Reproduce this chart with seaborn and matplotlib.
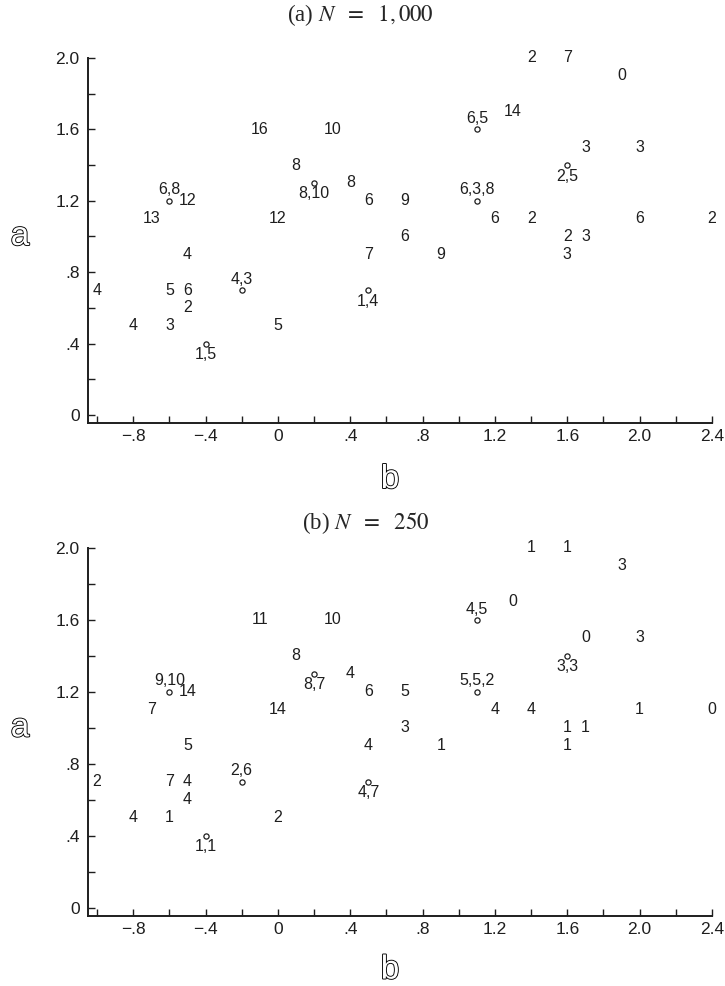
import numpy as np
import pandas as pd
import seaborn as sns
import matplotlib
matplotlib.use("Agg")
import matplotlib.pyplot as plt
from matplotlib.ticker import FixedLocator, FixedFormatter
import matplotlib.patheffects as pe

# grid points (b, a) - same for both panels
b_vals = [-1.0, -0.8, -0.6, -0.6, -0.5, -0.5, -0.5, -0.7, -0.6, -0.5,
          -0.2, -0.4, 0.0, -0.1, 0.0, 0.3, 0.1, 0.2, 0.4, 0.5,
          0.5, 0.5, 0.7, 0.7, 0.9, 1.1, 1.3, 1.1, 1.2, 1.4,
          1.4, 1.6, 1.9, 1.7, 2.0, 1.6, 1.6, 1.7, 1.6, 2.0, 2.4]
a_vals = [0.7, 0.5, 0.5, 0.7, 0.7, 0.6, 0.9, 1.1, 1.2, 1.2,
          0.7, 0.4, 0.5, 1.6, 1.1, 1.6, 1.4, 1.3, 1.3, 1.2,
          0.9, 0.7, 1.2, 1.0, 0.9, 1.6, 1.7, 1.2, 1.1, 1.1,
          2.0, 2.0, 1.9, 1.5, 1.5, 1.4, 1.0, 1.0, 0.9, 1.1, 1.1]

labels_1000 = ["4", "4", "3", "5", "6", "2", "4", "13", "6,8", "12",
               "4,3", "1,5", "5", "16", "12", "10", "8", "8,10", "8", "6",
               "7", "1,4", "9", "6", "9", "6,5", "14", "6,3,8", "6", "2",
               "2", "7", "0", "3", "3", "2,5", "2", "3", "3", "6", "2"]
labels_250 = ["2", "4", "1", "7", "4", "4", "5", "7", "9,10", "14",
              "2,6", "1,1", "2", "11", "14", "10", "8", "8,7", "4", "6",
              "4", "4,7", "5", "3", "1", "4,5", "0", "5,5,2", "4", "4",
              "1", "1", "3", "0", "3", "3,3", "1", "1", "1", "1", "0"]

# where the label goes for circled points: u = above, d = below
label_side = {8: "u", 10: "u", 11: "d", 17: "d", 21: "d", 25: "u", 27: "u", 35: "d"}

x_major = [-0.8, -0.4, 0.0, 0.4, 0.8, 1.2, 1.6, 2.0, 2.4]
x_major_lab = ["\u2212.8", "\u2212.4", "0", ".4", ".8", "1.2", "1.6", "2.0", "2.4"]
y_major = [0.0, 0.4, 0.8, 1.2, 1.6, 2.0]
y_major_lab = ["0", ".4", ".8", "1.2", "1.6", "2.0"]

sns.set_theme(style="ticks")
plt.rcParams['font.family'] = ['Liberation Sans', 'DejaVu Sans']
plt.rcParams['mathtext.fontset'] = 'stix'

fig = plt.figure(figsize=(7.25, 9.86), dpi=100)
ax1 = fig.add_axes([88/725, 1-423/986, 624/725, 365/986])
ax2 = fig.add_axes([88/725, 1-916/986, 624/725, 368/986])

ink = "#1e1e1e"


def draw_panel(ax, labels, blab_y):
    df = pd.DataFrame({"b": b_vals, "a": a_vals, "lab": labels})
    circ = df[df["lab"].str.contains(",")]
    sns.scatterplot(data=circ, x="b", y="a", ax=ax, s=14, marker="o",
                    facecolor="white", edgecolor=ink, linewidth=0.9,
                    zorder=3, legend=False)
    for i, row in df.iterrows():
        side = label_side.get(i)
        if side is None:
            off, va = 0, "center"
        elif side == "u":
            off, va = 2.5, "bottom"
        else:
            off, va = -2.5, "top"
        ax.annotate(row["lab"], (row["b"], row["a"]), xytext=(0, off),
                    textcoords="offset points", ha="center", va=va,
                    fontsize=11.5, color=ink, annotation_clip=False)

    ax.set_xlim(-1.05, 2.4)
    ax.set_ylim(-0.045, 2.0)
    sns.despine(ax=ax)
    for s in ["left", "bottom"]:
        ax.spines[s].set_linewidth(1.4)
        ax.spines[s].set_color(ink)
    ax.xaxis.set_major_locator(FixedLocator(x_major))
    ax.xaxis.set_major_formatter(FixedFormatter(x_major_lab))
    ax.xaxis.set_minor_locator(FixedLocator(np.arange(-1.0, 2.3, 0.4)))
    ax.yaxis.set_major_locator(FixedLocator(y_major))
    ax.yaxis.set_major_formatter(FixedFormatter(y_major_lab))
    ax.yaxis.set_minor_locator(FixedLocator([0.2, 0.6, 1.0, 1.4, 1.8]))
    ax.tick_params(which="both", direction="in", length=5, width=1,
                   color=ink, labelsize=12.5, labelcolor=ink)
    ax.tick_params(axis="x", pad=4)
    ax.tick_params(axis="y", pad=6)

    ax.set_ylabel("a", rotation=0, fontsize=24, color="white",
                  path_effects=[pe.withStroke(linewidth=1.3, foreground="black")])
    ax.yaxis.set_label_coords(-0.109, 0.511)
    ax.set_xlabel("b", fontsize=24, color="white",
                  path_effects=[pe.withStroke(linewidth=1.3, foreground="black")])
    ax.xaxis.set_label_coords(0.484, blab_y)
    ax.xaxis.label.set_va("center")
    ax.yaxis.label.set_va("center")
    ax.yaxis.label.set_ha("center")


draw_panel(ax1, labels_1000, -0.155)
draw_panel(ax2, labels_250, -0.147)

fig.text(360/725, 1-15/986, r"(a) $N\ \ =\ \ 1,000$", ha="center", va="center",
         fontsize=16.5, family=["Liberation Serif", "DejaVu Serif"])
fig.text(366/725, 1-523/986, r"(b) $N\ \ =\ \ 250$", ha="center", va="center",
         fontsize=16.5, family=["Liberation Serif", "DejaVu Serif"])

fig.savefig("out.png", dpi=100, facecolor="white")
